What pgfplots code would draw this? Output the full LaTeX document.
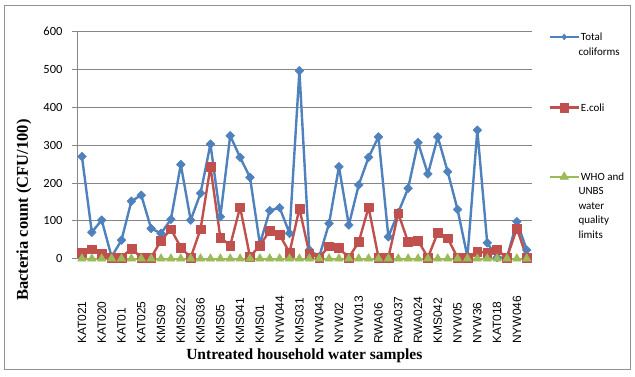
\documentclass[border=0pt]{standalone}
\usepackage{fontspec}
\setmainfont{Liberation Serif}
\newfontfamily\carlito{Carlito}
\newfontfamily\arialf{Liberation Sans}
\usepackage{pgfplots}
\pgfplotsset{compat=1.18}
\usepackage{pgfplotstable}
\definecolor{exblue}{HTML}{4F81BD}
\definecolor{exred}{HTML}{C0504D}
\definecolor{exgreen}{HTML}{9BBB59}
\definecolor{exgrid}{HTML}{868686}

\pgfplotstableread{
idx tc ec who
0 270 16 0
1 70 25 0
2 102 14 0
3 5 3 0
4 49 3 0
5 152 27 0
6 168 3 0
7 80 3 0
8 67 48 0
9 104 78 0
10 249 30 0
11 102 3 0
12 173 78 0
13 303 243 0
14 111 56 0
15 325 35 0
16 268 136 0
17 215 5 0
18 39 35 0
19 127 74 0
20 135 63 0
21 67 16 0
22 497 133 0
23 23 14 0
24 5 3 0
25 93 33 0
26 243 28 0
27 89 3 0
28 195 44 0
29 268 136 0
30 322 3 0
31 58 3 0
32 122 120 0
33 186 44 0
34 307 48 0
35 224 3 0
36 322 69 0
37 230 54 0
38 130 3 0
39 5 3 0
40 340 18 0
41 42 16 0
42 3 23 0
43 3 3 0
44 98 80 0
45 23 3 0
}\datatable

\pgfplotsset{
  frame/.style={at={(77pt,117.3pt)}, anchor=south west,
    scale only axis, width=454.7pt, height=227pt},
  blueS/.style={exblue, line width=2.4pt, line join=round, mark=square*, mark size=3.1pt,
    mark options={rotate=45, line width=0.5pt}},
  blueL/.style={exblue, line width=2.4pt, line join=round, mark=diamond*, mark size=3pt,
    mark options={line width=0.5pt}},
  redS/.style={exred, line width=2.4pt, line join=round, mark=square*, mark size=4.4pt,
    mark options={line width=0.5pt}},
  greenS/.style={exgreen, line width=2.4pt, line join=round, mark=triangle*, mark size=5pt,
    mark options={line width=0.5pt}},
  legaxis/.style={frame, hide axis, xmin=0, xmax=1, ymin=0, ymax=1,
    legend style={at={(axis description cs:1.0365,#1)}, anchor=north west, draw=none, fill=none,
      row sep=0pt, column sep=1pt, inner sep=0pt, nodes={inner sep=0pt},
      cells={anchor=base west},
      font=\carlito\fontsize{11}{14.9}\selectfont},
    legend image code/.code={\draw[mark repeat=2,mark phase=2,##1] plot coordinates {(0pt,3.5pt) (14.5pt,3.5pt) (29pt,3.5pt)};},
  },
}
\tikzset{legtext/.style={anchor=base west, inner sep=0pt, font=\carlito\fontsize{11}{14.9}\selectfont}}

\begin{document}
\begin{tikzpicture}[x=1pt,y=1pt]
\useasboundingbox (0,0) rectangle (635,376);
\draw[exgrid!90, line width=0.8pt] (4,7) rectangle (630,371);
\begin{axis}[
  frame,
  xmin=-0.5, xmax=45.5, ymin=0, ymax=600,
  ytick={0,100,...,600},
  xtick={0,2,...,44},
  xticklabels={KAT021,KAT020,KAT01,KAT025,KMS09,KMS022,KMS036,KMS05,KMS041,KMS01,NYW044,KMS031,NYW043,NYW02,NYW013,RWA06,RWA037,RWA024,KMS042,NYW05,NYW36,KAT018,NYW046},
  axis x line*=bottom, axis y line*=left,
  axis line style={exgrid, line width=0.8pt},
  ymajorgrids, grid style={exgrid, line width=0.8pt},
  tick align=outside, major tick length=5pt,
  y tick style={exgrid, line width=0.8pt},
  x tick style={draw=none},
  /pgf/number format/assume math mode=true,
  yticklabel style={font=\carlito\fontsize{12.5}{14}\selectfont, anchor=east, inner sep=0pt, xshift=-9.3pt},
  xticklabel style={font=\arialf\fontsize{12}{14}\selectfont, rotate=90, anchor=west, inner sep=0pt, xshift=-80.3pt},
  xlabel={Untreated household water samples},
  ylabel={Bacteria count (CFU/100)},
  every axis x label/.style={at={(axis description cs:0.5,0)}, anchor=center, yshift=-97pt, font=\bfseries\fontsize{15.5}{18}\selectfont},
  every axis y label/.style={at={(axis description cs:0,0.2145)}, xshift=-53pt, anchor=center, rotate=90, font=\bfseries\fontsize{16.5}{19}\selectfont},
  clip=false,
]
\addplot[blueS] table[x=idx,y=tc]{\datatable};
\addplot[redS] table[x=idx,y=ec]{\datatable};
\addplot[greenS] table[x=idx,y=who]{\datatable};
\end{axis}
% legend entries, spread down the right side as in the reference
\begin{axis}[legaxis=1.0084]
\addlegendimage{blueL}
\addlegendentry{\strut Total}
\end{axis}
\begin{axis}[legaxis=0.6974]
\addlegendimage{redS}
\addlegendentry{\strut E.coli}
\end{axis}
\begin{axis}[legaxis=0.3921]
\addlegendimage{greenS}
\addlegendentry{\strut WHO and}
\end{axis}
% wrapped continuation lines of the legend texts
\node[legtext] at (578.3,321) {coliforms};
\node[legtext] at (578.3,181.2) {UNBS};
\node[legtext] at (578.3,167) {water};
\node[legtext] at (578.3,152.5) {quality};
\node[legtext] at (578.3,137.5) {limits};
\end{tikzpicture}
\end{document}
